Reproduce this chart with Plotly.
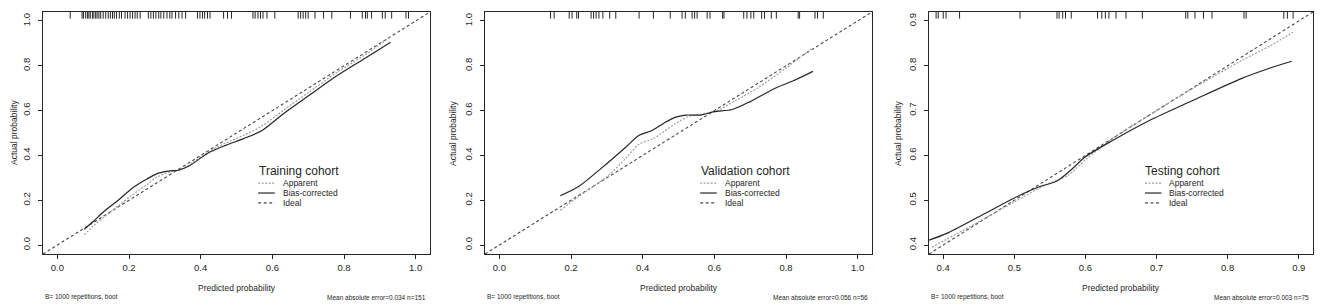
import plotly.graph_objects as go

# ---------------- data ----------------
cohorts = ["Training cohort", "Validation cohort", "Testing cohort"]
notes_right = ["Mean absolute error=0.034 n=151",
               "Mean absolute error=0.056 n=56",
               "Mean absolute error=0.003 n=75"]
note_left = "B= 1000 repetitions, boot"

# Training
tr_bias_x = [0.075, 0.10, 0.13, 0.17, 0.21, 0.25, 0.28, 0.31, 0.34, 0.37, 0.42, 0.47, 0.52, 0.57, 0.63, 0.70, 0.78, 0.86, 0.93]
tr_bias_y = [0.070, 0.105, 0.150, 0.200, 0.255, 0.295, 0.320, 0.330, 0.335, 0.355, 0.410, 0.445, 0.475, 0.510, 0.585, 0.665, 0.755, 0.835, 0.905]
tr_app_x = [0.075, 0.10, 0.13, 0.17, 0.21, 0.25, 0.28, 0.31, 0.34, 0.37, 0.42, 0.47, 0.52, 0.57, 0.63, 0.70, 0.78, 0.86, 0.93]
tr_app_y = [0.045, 0.085, 0.125, 0.175, 0.225, 0.270, 0.305, 0.325, 0.335, 0.360, 0.415, 0.455, 0.490, 0.530, 0.600, 0.680, 0.770, 0.850, 0.930]
tr_rug = [0.036, 0.069, 0.073, 0.079, 0.084, 0.088, 0.092, 0.098, 0.102, 0.107, 0.111, 0.116, 0.121,
          0.128, 0.135, 0.142, 0.148, 0.154, 0.159, 0.165, 0.173, 0.179, 0.189, 0.196, 0.203, 0.210,
          0.217, 0.223, 0.231, 0.254, 0.261, 0.268, 0.275, 0.283, 0.289, 0.297, 0.306, 0.314, 0.320,
          0.330, 0.339, 0.348, 0.358, 0.391, 0.398, 0.405, 0.411, 0.419, 0.426, 0.464, 0.475, 0.486,
          0.546, 0.552, 0.560, 0.567, 0.574, 0.585, 0.607, 0.672, 0.679, 0.686, 0.693, 0.700, 0.719,
          0.743, 0.766, 0.818, 0.851, 0.860, 0.865, 0.877, 0.907, 0.915, 0.933, 0.973, 0.980]

# Validation
va_bias_x = [0.17, 0.22, 0.29, 0.355, 0.39, 0.425, 0.46, 0.49, 0.52, 0.56, 0.60, 0.65, 0.70, 0.77, 0.83, 0.875]
va_bias_y = [0.220, 0.260, 0.350, 0.440, 0.490, 0.510, 0.545, 0.570, 0.580, 0.580, 0.595, 0.605, 0.640, 0.700, 0.740, 0.775]
va_app_x = [0.17, 0.22, 0.30, 0.355, 0.39, 0.43, 0.49, 0.53, 0.60, 0.66, 0.72, 0.80, 0.87]
va_app_y = [0.155, 0.215, 0.305, 0.390, 0.450, 0.475, 0.540, 0.575, 0.595, 0.645, 0.700, 0.790, 0.875]
va_rug = [0.143, 0.153, 0.195, 0.203, 0.216, 0.221, 0.256, 0.263, 0.270, 0.278, 0.289, 0.308, 0.325,
          0.390, 0.430, 0.477, 0.510, 0.519, 0.538, 0.545, 0.552, 0.580, 0.588, 0.623, 0.627, 0.682,
          0.691, 0.702, 0.710, 0.732, 0.740, 0.759, 0.773, 0.834, 0.838, 0.881, 0.888, 0.904]

# Testing
te_bias_x = [0.38, 0.405, 0.45, 0.50, 0.535, 0.56, 0.58, 0.60, 0.64, 0.69, 0.75, 0.82, 0.86, 0.89]
te_bias_y = [0.411, 0.426, 0.463, 0.505, 0.530, 0.543, 0.568, 0.597, 0.635, 0.678, 0.722, 0.772, 0.795, 0.810]
te_app_x = [0.384, 0.45, 0.50, 0.545, 0.575, 0.60, 0.64, 0.70, 0.76, 0.82, 0.86, 0.892]
te_app_y = [0.395, 0.452, 0.496, 0.535, 0.555, 0.590, 0.640, 0.700, 0.758, 0.812, 0.845, 0.875]
te_rug = [0.390, 0.393, 0.400, 0.404, 0.423, 0.508, 0.560, 0.563, 0.568, 0.572, 0.580, 0.617, 0.623,
          0.628, 0.633, 0.643, 0.657, 0.680, 0.741, 0.744, 0.754, 0.766, 0.778, 0.823, 0.826, 0.879,
          0.884, 0.892]

ticks_01 = [0.0, 0.2, 0.4, 0.6, 0.8, 1.0]
ticks_01_text = ["0.0", "0.2", "0.4", "0.6", "0.8", "1.0"]
ticks_49 = [0.4, 0.5, 0.6, 0.7, 0.8, 0.9]
ticks_49_text = ["0.4", "0.5", "0.6", "0.7", "0.8", "0.9"]

panels = [
    dict(bx=tr_bias_x, by=tr_bias_y, ax=tr_app_x, ay=tr_app_y, rug=tr_rug,
         rng=[-0.04, 1.04], ticks=ticks_01, ticktext=ticks_01_text),
    dict(bx=va_bias_x, by=va_bias_y, ax=va_app_x, ay=va_app_y, rug=va_rug,
         rng=[-0.04, 1.04], ticks=ticks_01, ticktext=ticks_01_text),
    dict(bx=te_bias_x, by=te_bias_y, ax=te_app_x, ay=te_app_y, rug=te_rug,
         rng=[0.38, 0.92], ticks=ticks_49, ticktext=ticks_49_text),
]

# ---------------- layout geometry ----------------
# the page body adds an 8px offset, so the figure is 8px smaller and shifted
OFF = 8
W, H = 1325 - OFF, 307 - OFF
box_px = [(43 - OFF, 430 - OFF), (485 - OFF, 872 - OFF), (929 - OFF, 1313 - OFF)]
ytitle_px = [13 - OFF + 1, 453 - OFF, 898 - OFF]
ytop_px, ybot_px = 12 - OFF, 254 - OFF
xtitle_y_px = 288 - OFF
note_y_px = 297 - OFF

FONT = "Liberation Sans, Arial, sans-serif"
INK = "#262626"
APP_COL = "#a0a0a0"
IDEAL_COL = "#484848"
BIAS_COL = "#262626"
APP_DASH = "2px,1.5px"
IDEAL_DASH = "3px,2.5px"

fig = go.Figure()
layout = dict(
    width=W, height=H,
    margin=dict(l=0, r=0, t=0, b=0),
    paper_bgcolor="white", plot_bgcolor="white",
    showlegend=False,
    font=dict(family=FONT, color=INK),
)
annotations = []
shapes = []

for i, p in enumerate(panels):
    sfx = "" if i == 0 else str(i + 1)
    xa, ya = "x" + sfx, "y" + sfx
    x0, x1 = box_px[i]
    lo, hi = p["rng"]

    # ideal line across the full plotting region
    fig.add_trace(go.Scatter(x=[lo, hi], y=[lo, hi], mode="lines", xaxis=xa, yaxis=ya,
                             line=dict(color=IDEAL_COL, width=1.1, dash=IDEAL_DASH),
                             hoverinfo="skip"))
    # apparent
    fig.add_trace(go.Scatter(x=p["ax"], y=p["ay"], mode="lines", xaxis=xa, yaxis=ya,
                             line=dict(color=APP_COL, width=1.2, dash=APP_DASH, shape="spline",
                                       smoothing=0.8)))
    # bias-corrected
    fig.add_trace(go.Scatter(x=p["bx"], y=p["by"], mode="lines", xaxis=xa, yaxis=ya,
                             line=dict(color=BIAS_COL, width=1.2, shape="spline", smoothing=0.8)))
    # rug of predicted probabilities at the top
    rug_y = hi - 0.013 * (hi - lo)
    fig.add_trace(go.Scatter(x=p["rug"], y=[rug_y] * len(p["rug"]), mode="markers",
                             xaxis=xa, yaxis=ya,
                             marker=dict(symbol="line-ns-open", size=5, color=INK,
                                         line=dict(color=INK, width=1)),
                             hoverinfo="skip"))

    common = dict(range=[lo, hi], showgrid=False, zeroline=False,
                  showline=True, mirror=True, linecolor=INK, linewidth=1.2,
                  ticks="outside", ticklen=4, tickwidth=1, tickcolor=INK,
                  tickvals=p["ticks"], ticktext=p["ticktext"],
                  tickfont=dict(family=FONT, size=9.5, color=INK))
    layout["xaxis" + sfx] = dict(common, domain=[x0 / W, x1 / W], anchor=ya)
    layout["yaxis" + sfx] = dict(common, domain=[1 - ybot_px / H, 1 - ytop_px / H],
                                 anchor=xa, tickangle=-90, ticklabelstandoff=4)

    # axis titles
    annotations.append(dict(text="Predicted probability", x=(x0 + x1) / 2 / W, y=1 - xtitle_y_px / H,
                            xref="paper", yref="paper", showarrow=False,
                            xanchor="center", yanchor="middle",
                            font=dict(size=8.5, family=FONT, color=INK)))
    annotations.append(dict(text="Actual probability", x=ytitle_px[i] / W,
                            y=1 - ((ytop_px + ybot_px) / 2) / H, textangle=-90,
                            xref="paper", yref="paper", showarrow=False,
                            xanchor="center", yanchor="middle",
                            font=dict(size=8.5, family=FONT, color=INK)))
    # footnotes
    annotations.append(dict(text=note_left, x=x0 / W, y=1 - note_y_px / H, xanchor="left",
                            yanchor="middle",
                            xref="paper", yref="paper", showarrow=False,
                            font=dict(size=6.5, family=FONT, color=INK)))
    annotations.append(dict(text=notes_right[i], x=(x1 - 2) / W, y=1 - note_y_px / H, xanchor="right",
                            yanchor="middle",
                            xref="paper", yref="paper", showarrow=False,
                            font=dict(size=6.5, family=FONT, color=INK)))

    # legend (drawn inside plot)
    lx = 0.556 if i < 2 else 0.5625
    xr, yr = xa + " domain", ya + " domain"
    annotations.append(dict(text=cohorts[i], x=lx - 0.004, y=0.343, xanchor="left", yanchor="middle",
                            xref=xr, yref=yr, showarrow=False,
                            font=dict(size=12, family=FONT, color=INK)))
    items = [("Apparent", APP_COL, APP_DASH), ("Bias-corrected", BIAS_COL, "solid"),
             ("Ideal", IDEAL_COL, IDEAL_DASH)]
    for k, (lab, col, dash) in enumerate(items):
        yy = 0.293 - 0.041 * k
        shapes.append(dict(type="line", xref=xr, yref=yr, x0=lx, x1=lx + 0.043, y0=yy, y1=yy,
                           line=dict(color=col, width=1.2, dash=dash)))
        annotations.append(dict(text=lab, x=lx + 0.058, y=yy, xanchor="left", yanchor="middle",
                                xref=xr, yref=yr, showarrow=False,
                                font=dict(size=8.5, family=FONT, color=INK)))

layout["annotations"] = annotations
layout["shapes"] = shapes
fig.update_layout(**layout)
fig.write_html("out.html")
